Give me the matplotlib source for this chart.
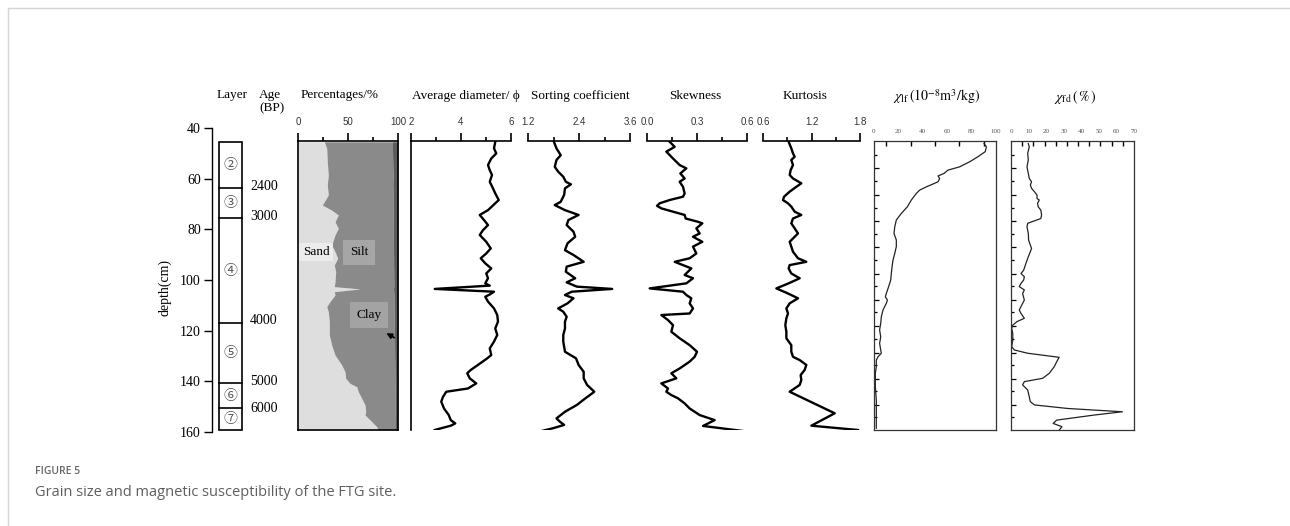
import numpy as np
import matplotlib
matplotlib.use('Agg')
import matplotlib.pyplot as plt
from matplotlib.patches import Rectangle
from matplotlib.ticker import FixedLocator

W, H = 1290, 526
plt.rcParams['font.family'] = ['Liberation Serif', 'DejaVu Serif']
plt.rcParams['mathtext.fontset'] = 'stix'

# ---- layer column ----
layer_bounds = [45.5, 63.6, 75.4, 117.1, 140.5, 150.7, 159.2]
layer_names = ['②', '③', '④', '⑤', '⑥', '⑦']
age_depth = [62.9, 75.0, 116.0, 140.1, 150.7]
age_labels = ['2400', '3000', '4000', '5000', '6000']

# ---- grain size composition (%) ----
pct_depth = [45.4, 48.0, 53.3, 58.5, 62.5, 66.4, 70.4, 72.4, 74.3, 77.0, 79.6, 82.2, 86.2, 88.8,
             91.4, 94.1, 96.7, 100.7, 102.6, 103.5, 104.6, 105.9, 108.5, 110.5, 112.5, 116.4,
             121.7, 125.7, 129.6, 133.5, 136.2, 138.8, 140.8, 142.1, 144.1, 146.7, 149.3, 152.0,
             153.3, 155.9, 157.9, 159.2]
sand = [26.3, 28.7, 29.3, 30.3, 29.3, 30.3, 24.3, 33.7, 40.3, 37.0, 40.3, 37.0, 33.7, 37.0,
        39.7, 36.3, 37.7, 37.0, 36.3, 62.0, 36.3, 37.0, 32.0, 28.7, 30.3, 31.3,
        31.3, 33.7, 37.0, 43.7, 47.0, 47.7, 52.0, 58.7, 60.3, 63.7, 67.0, 67.7,
        67.0, 73.7, 78.7, 80.3]
clay = [5.5, 5.5, 5.3, 5.0, 5.2, 5.0, 5.0, 4.8, 4.8, 4.7, 4.6, 4.6, 4.5, 4.5,
        4.4, 4.4, 4.3, 4.2, 4.2, 4.5, 4.2, 4.1, 4.0, 4.0, 3.9, 3.8,
        3.5, 3.4, 3.3, 3.2, 3.1, 3.0, 3.0, 3.0, 2.9, 2.8, 2.7, 2.7,
        2.6, 2.5, 2.5, 2.5]

# ---- average diameter (phi) ----
avg_depth = [45.4, 48.0, 50.0, 52.0, 54.6, 56.6, 58.5, 61.2, 63.8, 65.8, 68.4, 69.7, 72.4, 74.3,
             76.3, 78.3, 80.3, 82.2, 84.9, 87.5, 89.5, 91.4, 93.4, 95.4, 97.4, 99.3, 101.3, 102.2,
             103.5, 104.6, 105.7, 106.6, 108.5, 111.2, 113.8, 116.4, 119.1, 121.7, 124.3, 127.0,
             129.6, 130.9, 133.5, 135.5, 136.8, 138.8, 140.8, 142.8, 144.1, 146.1, 148.0, 150.7,
             153.3, 155.3, 156.6, 157.5, 159.2]
avg_diam = [5.37, 5.32, 5.41, 5.21, 5.08, 5.15, 5.24, 5.15, 5.28, 5.37, 5.51, 5.37, 5.08, 4.75,
            4.92, 5.08, 4.88, 4.75, 5.01, 5.19, 5.01, 4.79, 4.97, 5.21, 5.01, 5.08, 4.97, 5.15,
            2.95, 5.32, 5.15, 4.97, 5.08, 5.32, 5.45, 5.48, 5.37, 5.45, 5.32, 5.15,
            5.21, 5.05, 4.68, 4.39, 4.25, 4.35, 4.61, 4.28, 3.41, 3.28, 3.21, 3.32,
            3.51, 3.59, 3.77, 3.59, 2.95]

# ---- sorting coefficient ----
sort_depth = [45.4, 48.0, 50.7, 52.6, 55.3, 57.2, 59.2, 61.2, 62.2, 63.8, 66.4, 69.1, 70.4, 72.4,
              74.3, 76.3, 78.3, 80.9, 82.9, 85.5, 88.2, 90.1, 92.8, 94.7, 96.7, 99.3, 100.9, 102.6,
              103.5, 104.6, 105.9, 107.2, 109.2, 111.2, 112.5, 114.5, 116.4, 119.1, 121.7, 124.3,
              128.3, 130.9, 133.5, 136.2, 138.8, 141.4, 144.1, 146.7, 149.3, 152.0, 154.6, 155.9,
              157.2, 158.5, 159.6]
sorting = [1.81, 1.87, 1.97, 1.87, 1.83, 1.91, 2.03, 2.09, 2.21, 2.07, 2.05, 1.97, 1.83, 2.07,
           2.39, 2.15, 2.11, 2.27, 2.31, 2.13, 2.07, 2.27, 2.51, 2.11, 2.09, 2.31, 2.11, 2.35,
           3.18, 2.23, 2.07, 2.27, 2.13, 1.91, 2.03, 2.11, 2.07, 2.07, 2.03, 2.03,
           2.07, 2.33, 2.39, 2.51, 2.51, 2.59, 2.76, 2.55, 2.35, 2.07, 1.87, 1.95,
           2.05, 1.79, 1.52]

# ---- skewness ----
skew_depth = [45.4, 47.4, 49.3, 52.0, 54.6, 55.9, 57.9, 59.9, 61.2, 63.2, 65.8, 67.1, 68.4, 69.7,
              70.7, 71.7, 73.0, 74.3, 75.7, 77.0, 77.6, 79.6, 81.6, 82.9, 84.9, 86.8, 89.5, 91.4,
              92.8, 94.1, 95.4, 98.0, 99.3, 101.3, 103.3, 104.6, 105.9, 107.2, 109.2, 111.2,
              113.2, 113.8, 115.8, 117.8, 120.4, 123.0, 125.7, 128.3, 130.3, 132.2, 134.9, 136.8,
              138.8, 140.8, 142.8, 144.1, 145.4, 146.7, 148.7, 150.7, 153.3, 155.3, 157.6, 159.6]
skewness = [0.136, 0.166, 0.116, 0.156, 0.196, 0.236, 0.200, 0.226, 0.196, 0.216, 0.226, 0.216, 0.136, 0.076,
            0.060, 0.086, 0.156, 0.226, 0.232, 0.306, 0.332, 0.296, 0.316, 0.276, 0.332, 0.276, 0.296, 0.256,
            0.166, 0.216, 0.266, 0.226, 0.276, 0.236, 0.016, 0.216, 0.236, 0.266, 0.256, 0.276,
            0.256, 0.086, 0.126, 0.156, 0.146, 0.196, 0.256, 0.300, 0.286, 0.256, 0.196, 0.146,
            0.176, 0.086, 0.126, 0.116, 0.146, 0.186, 0.226, 0.256, 0.316, 0.406, 0.336, 0.576]

# ---- kurtosis ----
kurt_depth = [45.4, 48.0, 50.0, 51.3, 52.6, 54.6, 56.6, 58.5, 59.9, 61.8, 63.2, 65.1, 67.1, 68.4,
              69.7, 71.0, 73.0, 74.3, 75.7, 77.6, 79.6, 81.6, 82.9, 84.9, 86.8, 88.8, 91.4, 92.8,
              94.1, 95.4, 97.4, 99.3, 101.3, 103.3, 105.3, 107.2, 109.2, 111.2, 113.2, 115.1,
              117.8, 120.4, 123.0, 125.7, 128.3, 130.3, 131.6, 133.5, 135.5, 137.5, 139.5, 141.4,
              144.1, 152.6, 157.5, 159.2]
kurtosis = [0.917, 0.950, 0.971, 0.992, 0.950, 0.971, 0.942, 0.930, 0.971, 1.074, 1.012, 0.930, 0.860, 0.847,
            0.909, 0.950, 0.992, 1.074, 0.971, 0.950, 0.992, 1.033, 0.992, 0.930, 0.950, 0.971, 1.033, 1.136,
            0.930, 0.917, 0.950, 1.054, 0.917, 0.765, 0.909, 1.033, 0.930, 0.889, 0.909, 0.889,
            0.876, 0.889, 0.889, 0.950, 0.950, 0.971, 1.054, 1.136, 1.115, 1.066, 1.074, 1.054,
            0.930, 1.487, 1.198, 1.775]

# ---- magnetic susceptibility ----
xlf_depth = [46.1, 47.4, 49.3, 51.3, 53.3, 55.3, 56.6, 57.9, 58.9, 59.9, 61.2, 61.8, 63.2, 64.5,
             65.8, 68.4, 71.1, 73.7, 76.3, 79.0, 81.6, 84.2, 86.8, 89.5, 92.1, 94.7, 97.4, 100.0,
             102.6, 105.3, 106.6, 107.9, 109.2, 111.8, 114.5, 117.1, 119.7, 122.4, 125.0, 127.6,
             128.9, 130.3, 131.6, 134.2, 136.8, 142.1, 147.4, 152.6, 158.5]
xlf = [90.2, 92.1, 91.2, 85.2, 78.4, 70.2, 60.6, 57.4, 52.5, 53.8, 52.5, 49.7, 42.9, 37.4,
       34.7, 30.6, 27.3, 22.4, 18.3, 17.0, 16.4, 18.3, 18.3, 17.0, 15.6, 14.8, 14.2, 13.7,
       12.0, 10.1, 9.3, 11.0, 10.1, 7.4, 6.0, 5.5, 4.6, 5.5, 4.6, 5.5,
       6.0, 3.3, 1.9, 1.9, 1.1, 1.1, 1.9, 1.9, 1.9]

xfd_depth = [46.1, 47.4, 50.0, 52.6, 55.3, 57.9, 59.9, 61.2, 62.5, 63.8, 65.1, 66.4, 67.8, 68.4,
             69.7, 71.1, 72.4, 74.3, 75.7, 77.6, 79.0, 81.6, 84.2, 86.2, 87.5, 88.8, 90.8, 93.4,
             96.1, 97.4, 98.7, 100.0, 101.3, 102.6, 103.9, 105.3, 107.9, 109.9, 111.8, 113.2,
             115.1, 116.4, 117.8, 119.1, 121.1, 123.7, 126.3, 127.6, 128.9, 130.5, 131.6, 134.2,
             136.8, 138.8, 140.1, 141.4, 143.4, 146.1, 148.0, 149.3, 150.7, 152.0, 153.3, 155.3,
             156.6, 157.9, 159.2]
xfd = [9.85, 10.4, 9.5, 9.85, 9.1, 9.85, 10.4, 11.7, 11.0, 11.7, 13.3, 14.8, 14.8, 16.1,
       15.1, 15.5, 17.0, 17.4, 17.0, 9.5, 9.1, 9.85, 10.0, 11.0, 11.7, 11.0, 9.85, 8.5,
       7.2, 5.7, 7.6, 7.2, 5.7, 4.7, 7.6, 6.6, 7.6, 6.1, 4.7, 5.7,
       7.6, 3.4, 1.0, 0.4, 1.0, 1.0, 0.4, 1.9, 9.5, 27.4, 26.5, 24.6,
       21.8, 18.0, 7.6, 6.6, 9.5, 10.4, 11.0, 13.3, 32.2, 63.4, 47.3, 26.0,
       24.0, 29.0, 27.5]

TOP, BOT = 45.1, 159.2

fig = plt.figure(figsize=(W / 100, H / 100), dpi=100)


def box(x0, y0, x1, y1):
    # pixel box -> axes
    return fig.add_axes([x0 / W, 1 - y1 / H, (x1 - x0) / W, (y1 - y0) / H])


def ftext(x, y, s, **kw):
    fig.text(x / W, 1 - y / H, s, ha=kw.pop('ha', 'center'), va=kw.pop('va', 'center'), **kw)


# card frame
fig.add_artist(plt.Line2D([8 / W, 1], [1 - 8 / H, 1 - 8 / H], color='#d4d4d4', lw=1))
fig.add_artist(plt.Line2D([8 / W, 8 / W], [0, 1 - 8 / H], color='#d4d4d4', lw=1))

# depth axis
ad = box(212, 128, 217, 432)
ad.set_ylim(160, 40)
ad.set_xticks([])
for s in ['top', 'right', 'bottom']:
    ad.spines[s].set_visible(False)
ad.spines['left'].set_linewidth(1.0)
ad.set_yticks(np.arange(40, 161, 20))
ad.tick_params(axis='y', length=6, width=1.0, labelsize=10, pad=2)
ad.patch.set_alpha(0)
ftext(165, 287, 'depth(cm)', rotation=90, fontsize=10)

# layer column, x in pixel units
al = box(200, 128, 300, 432)
al.set_xlim(200, 300)
al.set_ylim(160, 40)
al.axis('off')
al.add_patch(Rectangle((219, layer_bounds[0]), 23, layer_bounds[-1] - layer_bounds[0],
                       fill=False, ec='black', lw=1.2))
for d in layer_bounds[1:-1]:
    al.plot([219, 242], [d, d], color='black', lw=1.2)
for i, name in enumerate(layer_names):
    mid = (layer_bounds[i] + layer_bounds[i + 1]) / 2
    al.text(230.5, mid, name, ha='center', va='center', fontsize=10, color='#555555',
            family=['Noto Sans CJK SC', 'DejaVu Sans'])
for d, a in zip(age_depth, age_labels):
    al.text(264, d, a, ha='center', va='center', fontsize=10)

ftext(232, 95, 'Layer', fontsize=9.5)
ftext(270, 95, 'Age', fontsize=9.5)
ftext(272, 108, '(BP)', fontsize=9.5)


def grain_axis(ax, lo, hi, major, minor, fmt):
    ax.set_xlim(lo, hi)
    ax.set_ylim(BOT, TOP)
    ax.xaxis.tick_top()
    ax.set_xticks(major)
    ax.set_xticklabels([fmt.format(v) for v in major])
    ax.xaxis.set_minor_locator(FixedLocator(minor))
    ax.set_yticks([])
    ax.tick_params(axis='x', which='major', direction='out', length=6, width=1.2, pad=4,
                   labelsize=7, labelcolor='#333333', labelfontfamily='Liberation Sans')
    ax.tick_params(axis='x', which='minor', direction='out', length=3, width=1.2)
    for s in ax.spines.values():
        s.set_linewidth(1.2)
    ax.patch.set_alpha(0)


# percentages
ap = box(298, 141, 398, 430)
grain_axis(ap, 0, 100, [0, 50, 100], [25, 75], '{:g}')
sand_a = np.array(sand)
clay_a = np.array(clay)
ap.fill_betweenx(pct_depth, 0, sand_a, color='#dedede', lw=0)
ap.fill_betweenx(pct_depth, sand_a, 100 - clay_a, color='#8a8a8a', lw=0)
ap.fill_betweenx(pct_depth, 100 - clay_a, 100, color='#5c5c5c', lw=0)
ap.text(18, 89, 'Sand', ha='center', va='center', fontsize=9.5,
        bbox=dict(boxstyle='square,pad=0.25', fc='#ececec', ec='none'))
ap.text(61, 89, 'Silt', ha='center', va='center', fontsize=9.5,
        bbox=dict(boxstyle='square,pad=0.5', fc='#a6a6a6', ec='none'))
ap.text(71, 113.8, 'Clay', ha='center', va='center', fontsize=9.5,
        bbox=dict(boxstyle='square,pad=0.5', fc='#a3a3a3', ec='none'))
ap.annotate('', xy=(86, 120.4), xytext=(98.7, 123.3),
            arrowprops=dict(arrowstyle='-|>', color='black', lw=1.2, mutation_scale=8))
ftext(340, 95, 'Percentages/%', fontsize=9.5)

# average diameter
aa = box(411, 141, 511, 430)
grain_axis(aa, 2, 6, [2, 4, 6], [3, 5], '{:g}')
for s in ['right', 'bottom']:
    aa.spines[s].set_visible(False)
aa.plot(avg_diam, avg_depth, color='black', lw=1.7)
ftext(466, 96, 'Average diameter/ ϕ', fontsize=9.5)

# sorting
asr = box(528, 141, 630, 430)
grain_axis(asr, 1.2, 3.6, [1.2, 2.4, 3.6], [1.8, 3.0], '{:.1f}')
for s in ['left', 'right', 'bottom']:
    asr.spines[s].set_visible(False)
asr.plot(sorting, sort_depth, color='black', lw=1.7)
ftext(580, 96, 'Sorting coefficient', fontsize=9.5)

# skewness
ask = box(647, 141, 747, 430)
grain_axis(ask, 0.0, 0.6, [0.0, 0.3, 0.6], [0.15, 0.45], '{:.1f}')
for s in ['left', 'right', 'bottom']:
    ask.spines[s].set_visible(False)
ask.plot(skewness, skew_depth, color='black', lw=1.7)
ftext(695, 96, 'Skewness', fontsize=9.5)

# kurtosis
aku = box(763, 141, 860, 430)
grain_axis(aku, 0.6, 1.8, [0.6, 1.2, 1.8], [0.9, 1.5], '{:.1f}')
for s in ['left', 'right', 'bottom']:
    aku.spines[s].set_visible(False)
aku.plot(kurtosis, kurt_depth, color='black', lw=1.7)
ftext(805, 96, 'Kurtosis', fontsize=9.5)


def chi_axis(ax, hi, major, minor):
    ax.set_xlim(0, hi)
    ax.set_ylim(BOT, TOP)
    ax.xaxis.tick_top()
    ax.set_xticks(major)
    ax.xaxis.set_minor_locator(FixedLocator(minor))
    ax.tick_params(axis='x', which='major', direction='in', length=0, pad=5,
                   labelsize=5, labelcolor='#555555')
    ax.tick_params(axis='x', which='minor', direction='in', length=3.5, width=1.0)
    ax.set_yticks(np.linspace(50.7, 149.4, 20)[1::2])
    ax.yaxis.set_minor_locator(FixedLocator(np.linspace(50.7, 154.2, 21)[::2]))
    ax.set_yticklabels([])
    ax.tick_params(axis='y', which='major', direction='in', length=3.5, width=0.9)
    ax.tick_params(axis='y', which='minor', direction='in', length=2, width=0.9)
    for s in ax.spines.values():
        s.set_linewidth(0.9)
        s.set_color('#333333')


ax1 = box(874, 141, 996, 430)
chi_axis(ax1, 100, np.arange(0, 101, 20), np.arange(10, 100, 10))
ax1.plot(xlf, xlf_depth, color='#222222', lw=0.9)
ftext(937, 97, r'$\chi_{\rm lf}\,(10^{-8}\mathrm{m}^{3}/\mathrm{kg})$', fontsize=10)

ax2 = box(1011, 141, 1134, 430)
chi_axis(ax2, 70, np.arange(0, 71, 10), np.linspace(0, 70, 12)[1:-1])
ax2.plot(xfd, xfd_depth, color='#222222', lw=0.9)
ftext(1075, 97, r'$\chi_{\rm fd}\,(\,\%\,)$', fontsize=10)

# caption
ftext(35, 472, 'FIGURE 5', ha='left', fontsize=7.5, color='#666666', weight='semibold',
      family='Open Sans')
ftext(35, 493, 'Grain size and magnetic susceptibility of the FTG site.', ha='left',
      fontsize=10.5, color='#5e5e5e', family='Open Sans')

fig.savefig('out.png', dpi=100, facecolor='white')
